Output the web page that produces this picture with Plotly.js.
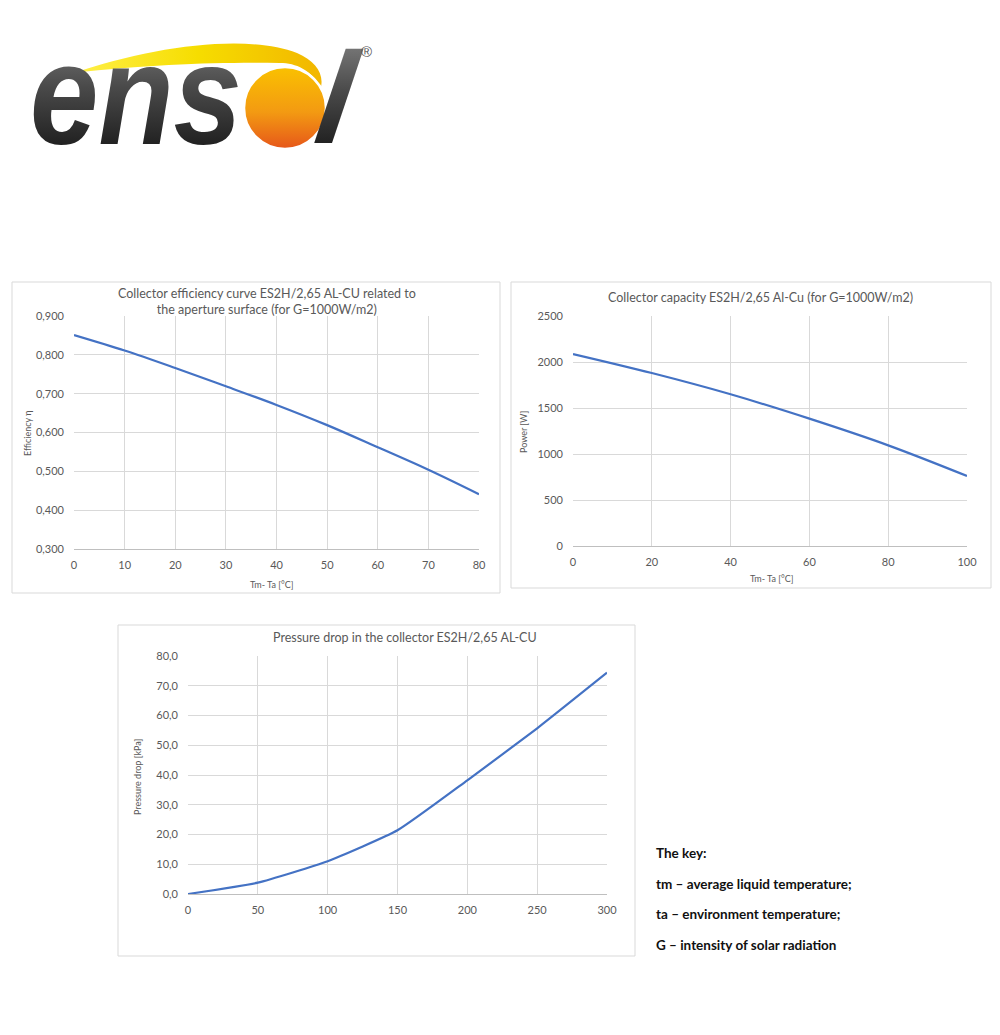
<!DOCTYPE html>
<html>
<head>
<meta charset="utf-8">
<script src="https://cdn.plot.ly/plotly-3.0.1.min.js"></script>
<style>
  body { margin: 0; background: #fff; }
  #wrap { position: relative; width: 1000px; height: 1035px; }
  #plot { position: absolute; left: 0; top: 0; width: 1000px; height: 1035px; }
  #logo { position: absolute; left: 0; top: 0; pointer-events: none; }
</style>
</head>
<body>
<div id="wrap">
  <div id="plot"></div>
  <svg id="logo" width="420" height="210" viewBox="0 0 420 210">
    <defs>
      <linearGradient id="ink" x1="0" y1="0" x2="0" y2="1">
        <stop offset="0" stop-color="#8a8a8a"/>
        <stop offset="0.45" stop-color="#4a4a4a"/>
        <stop offset="1" stop-color="#0d0d0d"/>
      </linearGradient>
      <linearGradient id="sun" x1="0" y1="0" x2="0" y2="1">
        <stop offset="0" stop-color="#fac100"/>
        <stop offset="0.55" stop-color="#f39a12"/>
        <stop offset="1" stop-color="#e6561a"/>
      </linearGradient>
      <linearGradient id="swoosh" x1="0" y1="0" x2="1" y2="0">
        <stop offset="0" stop-color="#fff04a"/>
        <stop offset="0.5" stop-color="#f6dd00"/>
        <stop offset="1" stop-color="#f2b600"/>
      </linearGradient>
    </defs>
    <path d="M 74 73 C 150 47, 245 33, 297 53 C 315 61, 324 73, 321 87 C 311 70, 296 63, 280 63 C 225 62, 150 64, 74 73 Z" fill="url(#swoosh)"/>
    <text x="30" y="144" font-family="Liberation Sans, Arial, sans-serif" font-weight="bold" font-style="italic"
          font-size="142" fill="url(#ink)" textLength="212" lengthAdjust="spacingAndGlyphs">ens</text>
    <circle cx="285" cy="108" r="41" fill="url(#sun)" stroke="#fff" stroke-width="2.5"/>
    <text x="312" y="143" font-family="Liberation Sans, Arial, sans-serif" font-weight="bold" font-style="italic"
          font-size="130" fill="url(#ink)" transform="skewX(-8) translate(20 0)">l</text>
    <text x="361" y="57" font-family="Liberation Sans, Arial, sans-serif" font-size="15" fill="#555">®</text>
  </svg>
</div>
<script>
// efficiency curve
const effX = [0, 10, 20, 30, 40, 50, 60, 70, 80];
const effY = [0.851, 0.811, 0.766, 0.719, 0.671, 0.619, 0.562, 0.504, 0.441];

// collector capacity
const powX = [0, 20, 40, 60, 80, 100];
const powY = [2087, 1880, 1649, 1384, 1094, 761];

// pressure drop
const presX = [0, 50, 100, 150, 200, 250, 300];
const presY = [0, 3.8, 11.0, 21.4, 38.2, 55.7, 74.4];

const keyLines = [
    "The key:",
    "tm – average liquid temperature;",
    "ta – environment temperature;",
    "G – intensity of solar radiation"
];

const W = 1000, H = 1035;
const px = x => x / W;
const py = y => 1 - y / H;

const FONT = "Lato, 'Open Sans', sans-serif";
const GREY = "#595959";
const BLUE = "#4472C4";
const GRID = "#d9d9d9";

function axis(domain, range, dtick, extra) {
    return Object.assign({
        domain: domain,
        range: range,
        dtick: dtick,
        tick0: 0,
        showgrid: true,
        gridcolor: GRID,
        gridwidth: 1,
        zeroline: false,
        ticks: "",
        fixedrange: true,
        tickfont: {family: FONT, size: 11, color: GREY}
    }, extra || {});
}

const traces = [
    {type: "scatter", mode: "lines", x: effX, y: effY, xaxis: "x", yaxis: "y",
     line: {color: BLUE, width: 2.2, shape: "spline", smoothing: 1}},
    {type: "scatter", mode: "lines", x: powX, y: powY, xaxis: "x2", yaxis: "y2",
     line: {color: BLUE, width: 2.2, shape: "spline", smoothing: 1}},
    {type: "scatter", mode: "lines", x: presX, y: presY, xaxis: "x3", yaxis: "y3",
     line: {color: BLUE, width: 2.2, shape: "spline", smoothing: 0.45}}
];

const xline = {showline: true, linecolor: "#bfbfbf", linewidth: 1, ticklabelstandoff: 6};
const ylab = {ticklabelstandoff: 9};

const layout = {
    width: W,
    height: H,
    margin: {l: 0, r: 0, t: 0, b: 0},
    paper_bgcolor: "#fff",
    plot_bgcolor: "#fff",
    showlegend: false,
    separators: ", ",
    font: {family: FONT, color: GREY},

    xaxis: axis([px(74), px(479)], [0, 80], 10, Object.assign({anchor: "y"}, xline)),
    yaxis: axis([py(549), py(316)], [0.3, 0.9], 0.1, Object.assign({anchor: "x", tickformat: ".3f", tick0: 0.3}, ylab)),

    xaxis2: axis([px(573), px(967)], [0, 100], 20, Object.assign({anchor: "y2"}, xline)),
    yaxis2: axis([py(546), py(316)], [0, 2500], 500, Object.assign({anchor: "x2"}, ylab)),

    xaxis3: axis([px(188), px(607)], [0, 300], 50, Object.assign({anchor: "y3"}, xline)),
    yaxis3: axis([py(894), py(656)], [0, 80], 10, Object.assign({anchor: "x3", tickformat: ".1f"}, ylab)),

    shapes: [
        {type: "rect", xref: "paper", yref: "paper", x0: px(12), x1: px(500), y0: py(593), y1: py(282),
         line: {color: GRID, width: 1}},
        {type: "rect", xref: "paper", yref: "paper", x0: px(511), x1: px(991), y0: py(588), y1: py(282),
         line: {color: GRID, width: 1}},
        {type: "rect", xref: "paper", yref: "paper", x0: px(118), x1: px(635), y0: py(956), y1: py(625),
         line: {color: GRID, width: 1}}
    ],

    annotations: []
};

function note(text, x, y, opts) {
    layout.annotations.push(Object.assign({
        text: text, xref: "paper", yref: "paper", x: px(x), y: py(y),
        xanchor: "center", yanchor: "middle", showarrow: false,
        font: {family: FONT, size: 12.5, color: GREY}
    }, opts || {}));
}

// chart titles
note("Collector efficiency curve ES2H/2,65 AL-CU related to<br>the aperture surface (for G=1000W/m2)", 267, 302);
note("Collector capacity ES2H/2,65 Al-Cu (for G=1000W/m2)", 760, 297);
note("Pressure drop in the collector ES2H/2,65 AL-CU", 405, 637);

// axis titles
const small = {family: FONT, size: 9, color: GREY};
note("Tm- Ta [°C]", 271, 584, {font: small});
note("Efficiency η", 27, 433, {font: small, textangle: -90});
note("Tm- Ta [°C]", 771, 578, {font: small});
note("Power [W]", 523, 432, {font: small, textangle: -90});
note("Pressure drop [kPa]", 137, 777, {font: small, textangle: -90});

// key
const keyY = [853, 884, 914, 945];
keyLines.forEach((t, i) => {
    note("<b>" + t + "</b>", 654, keyY[i], {
        xanchor: "left",
        font: {family: FONT, size: 13.5, color: "#111"}
    });
});

Plotly.newPlot("plot", traces, layout, {staticPlot: true});
</script>
</body>
</html>
